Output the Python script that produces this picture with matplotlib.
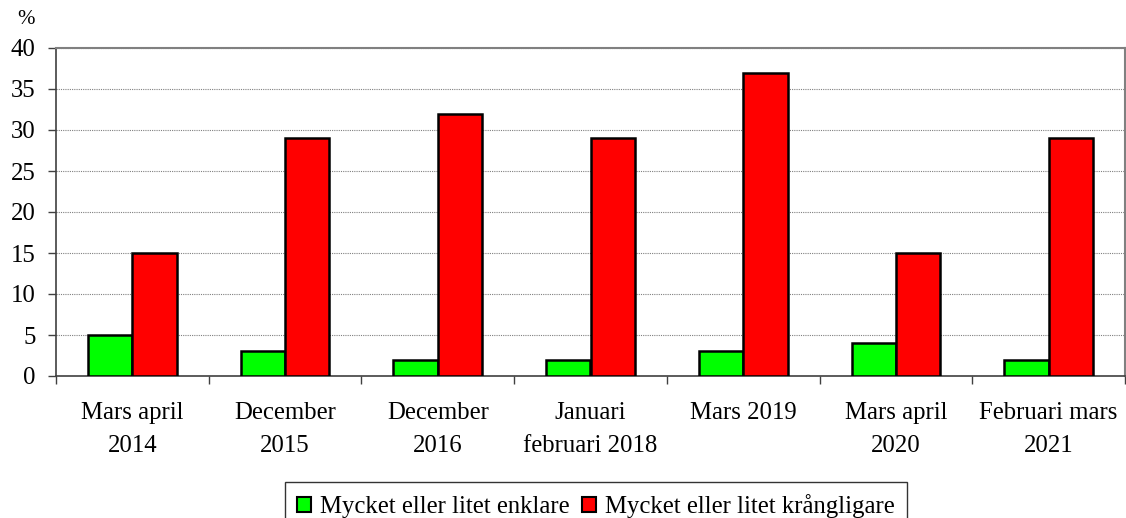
import matplotlib
matplotlib.use("Agg")
import matplotlib.pyplot as plt
import numpy as np
from matplotlib.patches import Patch

categories = ["Mars april\n2014", "December\n2015", "December\n2016", "Januari\nfebruari 2018",
              "Mars 2019", "Mars april\n2020", "Februari mars\n2021"]
enklare = [5, 3, 2, 2, 3, 4, 2]
krangligare = [15, 29, 32, 29, 37, 15, 29]
series_names = ["Mycket eller litet enklare", "Mycket eller litet krångligare"]
yticks = [0, 5, 10, 15, 20, 25, 30, 35, 40]

plt.rcParams['font.family'] = ['Liberation Serif', 'DejaVu Serif']

W, H = 1126, 518
fig = plt.figure(figsize=(W/100, H/100), dpi=100)
ax = fig.add_axes([56/W, (H-376)/H, (1125-56)/W, (376-48)/H])

x = np.arange(len(categories))
bw = 0.29
ax.bar(x - bw/2, enklare, bw, color="#00ff00", edgecolor="black", linewidth=1.8, zorder=3)
ax.bar(x + bw/2, krangligare, bw, color="#ff0000", edgecolor="black", linewidth=1.8, zorder=3)

ax.set_xlim(-0.5, len(categories) - 0.5)
ax.set_ylim(0, 40)
ax.set_yticks(yticks)
ax.set_yticklabels([str(v) for v in yticks], fontsize=17.8)
ax.yaxis.grid(True, linestyle=(0, (1, 1)), color="#808080", linewidth=0.8, zorder=0)
ax.set_axisbelow(True)

ax.set_xticks(x)
ax.set_xticklabels(categories, fontsize=17.8, linespacing=1.6)
ax.tick_params(axis='x', which='major', length=0, pad=19)
ax.set_xticks(np.arange(-0.5, len(categories)), minor=True)
ax.tick_params(axis='x', which='minor', length=5.5, direction='out', color="#404040", width=1)
ax.tick_params(axis='y', length=5.5, direction='out', color="#404040", width=1, pad=9)

for s in ['top', 'right']:
    ax.spines[s].set_color("#808080")
    ax.spines[s].set_linewidth(1.5)
ax.spines['left'].set_color("#404040")
ax.spines['bottom'].set_color("#404040")
ax.spines['left'].set_linewidth(1.2)
ax.spines['bottom'].set_linewidth(1.2)

fig.text(17/W, 1 - 19/H, "%", fontsize=15, ha='left', va='center')

handles = [Patch(facecolor="#00ff00", edgecolor="black", linewidth=1.5),
           Patch(facecolor="#ff0000", edgecolor="black", linewidth=1.5)]
leg = fig.legend(handles, series_names, loc='upper center', bbox_to_anchor=(596/W, 1 - 482/H),
                 ncol=2, fontsize=17.8, frameon=True, fancybox=False, handlelength=0.57,
                 handleheight=0.57, handletextpad=0.36, columnspacing=0.5, borderpad=0.5,
                 borderaxespad=0)
leg.get_frame().set_edgecolor("black")
leg.get_frame().set_linewidth(1.0)

fig.savefig("out.png", dpi=100)
